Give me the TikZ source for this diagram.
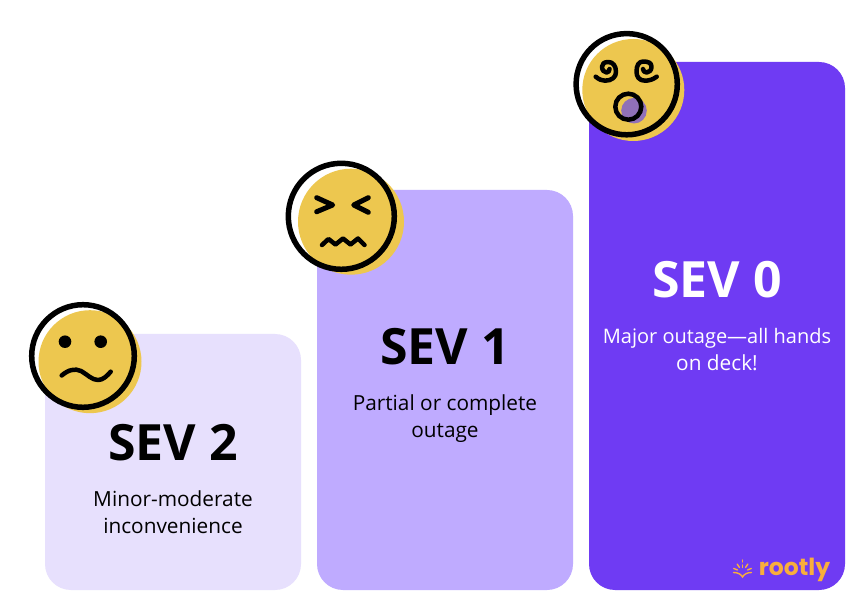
\documentclass[tikz,border=0pt]{standalone}
\usepackage{fontspec}
\setmainfont{Open Sans}
\newfontfamily\logofont{Poppins}
\definecolor{sevlight}{HTML}{E7E0FD}
\definecolor{sevmid}{HTML}{BFABFF}
\definecolor{sevdeep}{HTML}{6F3BF3}
\definecolor{faceyel}{HTML}{EDC74F}
\definecolor{mouthp}{HTML}{9070B8}
\definecolor{logoor}{HTML}{F9AE3C}
\tikzset{
 sevtitle/.style={font=\fontsize{50}{50}\selectfont\bfseries,inner sep=0pt,anchor=base},
 sevdesc/.style={font=\fontsize{20.8}{27}\selectfont,align=center,inner sep=0pt,anchor=base},
 ring/.style={draw=black,line width=5.5pt,fill=none},
 feat/.style={draw=black,line width=4.5pt,line cap=round,line join=round},
 ray/.style={logoor,line width=1.4pt,line cap=round},
}
\begin{document}
\begin{tikzpicture}[x=1pt,y=-1pt]
\useasboundingbox (0,0) rectangle (868,612);
\fill[white] (0,0) rectangle (868,612);
\fill[sevlight,rounded corners=26pt] (45,334) rectangle (301,590);
\fill[sevmid,rounded corners=26pt] (317,190) rectangle (573,590);
\fill[sevdeep,rounded corners=26pt] (589,62) rectangle (845,590);
\node[sevtitle] (t2) at (173,460.5) {SEV 2};
\node[sevdesc] (d2a) at (173,506) {Minor-moderate};
\node[sevdesc] (d2b) at (173,533) {inconvenience};
\node[sevtitle] (t1) at (445,364.5) {SEV 1};
\node[sevdesc] (d1a) at (445,410) {Partial or complete};
\node[sevdesc] (d1b) at (445,437) {outage};
\node[sevtitle,text=white] (t0) at (717,298) {SEV 0};
\node[sevdesc,text=white,font=\fontsize{20}{27}\selectfont] (d0a) at (717,344) {Major outage—all hands};
\node[sevdesc,text=white] (d0b) at (717,371) {on deck!};
% face 2
\fill[faceyel] (90,361.7) circle (51.5);
\draw[ring] (83,356) circle (51.3);
\fill (65,341.7) circle (6.3);
\fill (100.7,341.7) circle (6.3);
\draw[feat] (61.7,375.5) .. controls (68,370) and (75,368) .. (81,371) .. controls (88,375) and (92,380) .. (98,380) .. controls (103,380) and (107,376) .. (110.7,371.7);
% face 1
\fill[faceyel] (351,221.7) circle (53);
\draw[ring] (341.3,216.3) circle (53);
\draw[feat,line width=5pt] (316.7,197.7) -- (332.7,205) -- (316.7,211.7);
\draw[feat,line width=5pt] (368.3,197.7) -- (353.7,205) -- (368.3,212.3);
\draw[feat] (322,245) -- (328.5,239) -- (335.5,244.5) -- (343,238.5) -- (350.5,244.5) -- (358,238.5) -- (364.5,245);
% face 0
\fill[faceyel] (633.3,90) circle (51);
\draw[ring] (626.7,84.2) circle (50.6);
\fill[mouthp] (634,110.7) circle (12.8);
\draw[black,line width=4.5pt] (628.3,106.7) circle (13);
\draw[feat] (595.7,76.7) .. controls (599,79.5) and (602,80.7) .. (605,80.7) .. controls (612,80.7) and (616,77) .. (616,72) .. controls (616,66) and (613,62) .. (608.3,62) .. controls (604,62) and (602,64) .. (602,66.7) .. controls (602,70) and (604,72.5) .. (606.7,72.5) .. controls (608.3,72.5) and (609.5,71) .. (609.5,69);
\draw[feat] (656.7,76.7) .. controls (653,79.5) and (649,80.7) .. (645,80.7) .. controls (639,80.7) and (636.5,76.5) .. (636.5,71.7) .. controls (636.5,65) and (639,61.5) .. (643.3,61.5) .. controls (648.5,61.5) and (651.5,63) .. (651.5,66.7) .. controls (651.5,70) and (649.5,72.5) .. (646.7,72.5) .. controls (644.5,72.5) and (643,71) .. (643,69);
% logo
\node[font=\logofont\fontsize{23.5}{24}\selectfont\bfseries,text=logoor,inner sep=0pt,anchor=base] (logo) at (794.5,575) {rootly};
\coordinate (sun) at (742.5,572);
\foreach \a in {-68,-34,34,68} {\draw[ray] (sun) ++({\a-90}:5.5) -- ++({\a-90}:4);}
\draw[ray] (sun) ++(-90:4.5) -- ++(-90:2.5);
\draw[ray] (sun) ++(-90:10) -- ++(-90:2);
\draw[ray] (733.5,572.5) .. controls (737.5,572.5) and (741,574) .. (742.5,577) .. controls (744,574) and (747.5,572.5) .. (751.5,572.5);
\end{tikzpicture}
\end{document}
